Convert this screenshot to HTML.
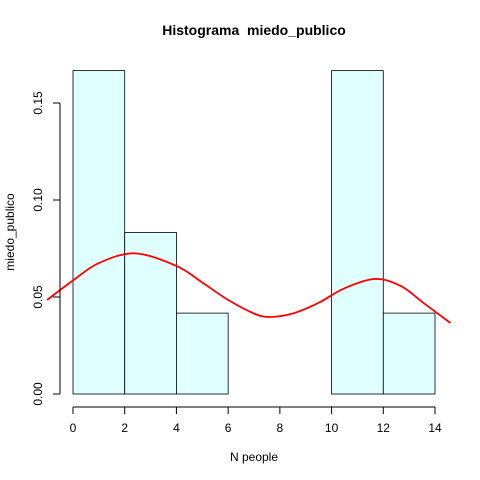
<!DOCTYPE html>
<html><head><meta charset="utf-8"><style>
body{margin:0;background:#fff}
svg{display:block;font-family:"Liberation Sans",sans-serif}
</style></head><body>
<svg id="chart" width="480" height="480">
<text x="254" y="35" text-anchor="middle" font-weight="bold" font-size="14" style="white-space:pre">Histograma  miedo_publico</text>
<text x="254" y="461" text-anchor="middle" font-size="12">N people</text>
<text transform="translate(14,232) rotate(-90)" text-anchor="middle" font-size="12">miedo_publico</text>
<g id="bars"></g><g id="axes"></g>
</svg>
<script>
const binEdges=[0,2,4,6,8,10,12,14];
const densities=[0.1667,0.0833,0.0417,0,0,0.1667,0.0417];
const xTicks=[0,2,4,6,8,10,12,14];
const yTicks=[0,0.05,0.10,0.15];
const yTickLabels=["0.00","0.05","0.10","0.15"];
const curveX=[-1,0,1,2.4,4,5,6,7,7.6,8.5,9.5,10.5,11.7,12.7,13.6,14.6];
const curveY=[0.0485,0.0585,0.0675,0.0725,0.066,0.0575,0.0485,0.0415,0.0397,0.0415,0.047,0.0545,0.0593,0.0555,0.0465,0.0366];
const sx=v=>73+v*(435-73)/14;
const sy=v=>394-v*1940;
const NS="http://www.w3.org/2000/svg";
const bars=document.getElementById('bars'),axes=document.getElementById('axes');
function mk(tag,attrs,parent){const e=document.createElementNS(NS,tag);for(const k in attrs)e.setAttribute(k,attrs[k]);parent.appendChild(e);return e;}
densities.forEach((d,i)=>{
 const r=mk('rect',{x:sx(binEdges[i]),y:sy(d),width:sx(binEdges[i+1])-sx(binEdges[i]),height:sy(0)-sy(d),fill:'#e0ffff',stroke:'#000','stroke-width':0.8},bars);
 
 
});
let d='M'+sx(curveX[0])+','+sy(curveY[0]);
for(let i=0;i<curveX.length-1;i++){
 const p0=[sx(curveX[Math.max(0,i-1)]),sy(curveY[Math.max(0,i-1)])],p1=[sx(curveX[i]),sy(curveY[i])],p2=[sx(curveX[i+1]),sy(curveY[i+1])],p3=[sx(curveX[Math.min(curveX.length-1,i+2)]),sy(curveY[Math.min(curveX.length-1,i+2)])];
 d+=' C'+(p1[0]+(p2[0]-p0[0])/6)+','+(p1[1]+(p2[1]-p0[1])/6)+' '+(p2[0]-(p3[0]-p1[0])/6)+','+(p2[1]-(p3[1]-p1[1])/6)+' '+p2[0]+','+p2[1];
}
const c=mk('path',{d:d,fill:'none',stroke:'#ff0000','stroke-width':1.8},bars);


const xa=mk('line',{x1:sx(xTicks[0]),x2:sx(xTicks[xTicks.length-1]),y1:407,y2:407,stroke:'#000'},axes);


xTicks.forEach(t=>{
 mk('line',{x1:sx(t),x2:sx(t),y1:407,y2:414,stroke:'#000'},axes);
 const l=mk('text',{x:sx(t),y:432,'text-anchor':'middle','font-size':12},axes);l.textContent=t;
 
 
});
const ya=mk('line',{x1:60,x2:60,y1:sy(yTicks[yTicks.length-1]),y2:sy(yTicks[0]),stroke:'#000'},axes);


yTicks.forEach((t,i)=>{
 mk('line',{x1:53,x2:60,y1:sy(t),y2:sy(t),stroke:'#000'},axes);
 const l=mk('text',{transform:'translate(42,'+sy(t)+') rotate(-90)','text-anchor':'middle','font-size':12},axes);l.textContent=yTickLabels[i];
 
 
});
</script>
</body></html>
